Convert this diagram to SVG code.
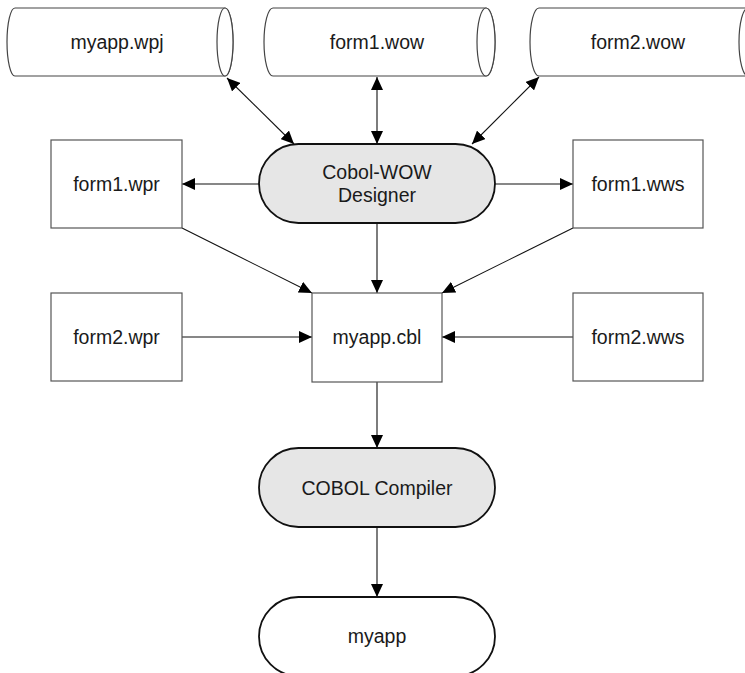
<svg xmlns="http://www.w3.org/2000/svg" width="745" height="673" viewBox="0 0 745 673">
<defs>
<style>
text{font-family:"Liberation Sans",Arial,sans-serif;font-size:19.5px;fill:#1a1a1a;text-anchor:middle;dominant-baseline:central}
.box{fill:#fff;stroke:#555;stroke-width:1.2}
.cyl{fill:#fff;stroke:#444;stroke-width:1.2}
.pill{fill:#e6e6e6;stroke:#111;stroke-width:1.8}
.pillw{fill:#fff;stroke:#111;stroke-width:1.8}
.con{stroke:#111;stroke-width:1.1;fill:none}
</style>
<marker id="ah" viewBox="0 0 13 12" refX="13" refY="6" markerWidth="13" markerHeight="12" markerUnits="userSpaceOnUse" orient="auto-start-reverse">
<path d="M0,0 L13,6 L0,12 z" fill="#000"/>
</marker>
</defs>
<rect width="745" height="673" fill="#fff"/>
<g id="connectors">
<line class="con" x1="227" y1="78" x2="294" y2="144" marker-start="url(#ah)" marker-end="url(#ah)"/>
<line class="con" x1="377" y1="77" x2="377" y2="144" marker-start="url(#ah)" marker-end="url(#ah)"/>
<line class="con" x1="539" y1="77" x2="472" y2="144" marker-start="url(#ah)" marker-end="url(#ah)"/>
<line class="con" x1="259" y1="184" x2="182" y2="184" marker-end="url(#ah)"/>
<line class="con" x1="495" y1="184" x2="573" y2="184" marker-end="url(#ah)"/>
<line class="con" x1="377" y1="223" x2="377" y2="293" marker-end="url(#ah)"/>
<line class="con" x1="182" y1="228" x2="312" y2="293" marker-end="url(#ah)"/>
<line class="con" x1="573" y1="228" x2="442" y2="293" marker-end="url(#ah)"/>
<line class="con" x1="182" y1="337" x2="312" y2="337" marker-end="url(#ah)"/>
<line class="con" x1="573" y1="337" x2="442" y2="337" marker-end="url(#ah)"/>
<line class="con" x1="377" y1="382" x2="377" y2="448" marker-end="url(#ah)"/>
<line class="con" x1="377" y1="527" x2="377" y2="597" marker-end="url(#ah)"/>
</g>
<g id="myapp_wpj">
<path class="cyl" d="M15,8 L225,8 A8,34 0 0 1 225,76 L15,76 A8,34 0 0 1 15,8 z"/>
<ellipse class="cyl" cx="225" cy="42" rx="8" ry="34" fill="none"/>
<text x="117" y="42">myapp.wpj</text>
</g>
<g id="form1_wow">
<path class="cyl" d="M273,8 L486,8 A9,34 0 0 1 486,76 L273,76 A9,34 0 0 1 273,8 z"/>
<ellipse class="cyl" cx="486" cy="42" rx="9" ry="34" fill="none"/>
<text x="377" y="42">form1.wow</text>
</g>
<g id="form2_wow">
<path class="cyl" d="M539,8 L748,8 A9,34 0 0 1 748,76 L539,76 A9,34 0 0 1 539,8 z"/>
<ellipse class="cyl" cx="748" cy="42" rx="9" ry="34" fill="none"/>
<text x="638" y="42">form2.wow</text>
</g>
<g id="designer">
<rect class="pill" x="259" y="144" width="236" height="79" rx="39.5" ry="39.5"/>
<text x="377" y="172">Cobol-WOW</text>
<text x="377" y="195">Designer</text>
</g>
<g id="form1_wpr">
<rect class="box" x="51" y="140" width="131" height="88"/>
<text x="116.5" y="184">form1.wpr</text>
</g>
<g id="form1_wws">
<rect class="box" x="573" y="140" width="130" height="88"/>
<text x="638" y="184">form1.wws</text>
</g>
<g id="form2_wpr">
<rect class="box" x="51" y="293" width="131" height="88"/>
<text x="116.5" y="337">form2.wpr</text>
</g>
<g id="myapp_cbl">
<rect class="box" x="312" y="293" width="130" height="89"/>
<text x="377" y="337">myapp.cbl</text>
</g>
<g id="form2_wws">
<rect class="box" x="573" y="293" width="130" height="88"/>
<text x="638" y="337">form2.wws</text>
</g>
<g id="compiler">
<rect class="pill" x="259" y="448" width="236" height="79" rx="39.5" ry="39.5"/>
<text x="377" y="487.5">COBOL Compiler</text>
</g>
<g id="myapp">
<rect class="pillw" x="259" y="597" width="236" height="79" rx="39.5" ry="39.5"/>
<text x="377" y="636">myapp</text>
</g>
</svg>
